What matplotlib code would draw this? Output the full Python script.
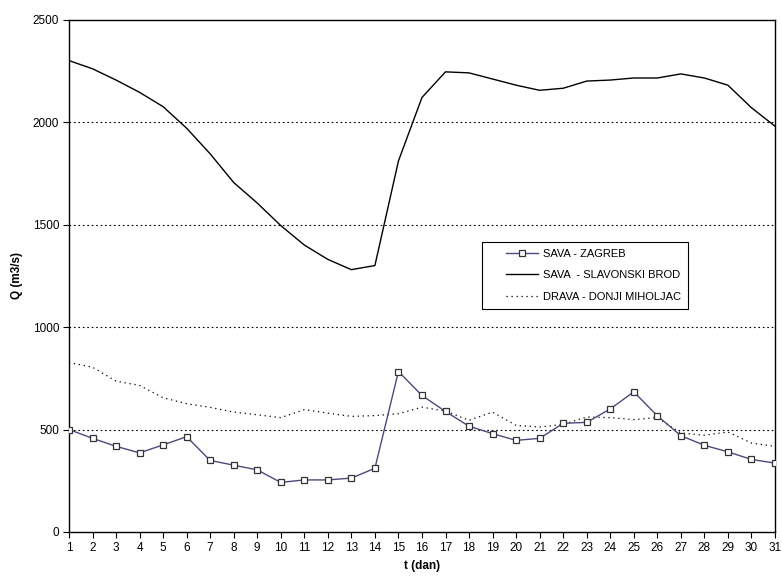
import matplotlib
matplotlib.use("Agg")
import matplotlib.pyplot as plt
from matplotlib.legend_handler import HandlerLine2D

plt.rcParams['font.family'] = ['Liberation Sans', 'DejaVu Sans']

# --- podaci (t u danima, Q u m3/s) ---
days = list(range(1, 32))
sava_zagreb = [500, 457, 418, 386, 425, 465, 349, 326, 303, 242,
               254, 254, 263, 311, 783, 666, 588, 516, 480, 447,
               457, 530, 535, 600, 684, 567, 470, 423, 391, 354, 336]
sava_brod = [2300, 2260, 2205, 2145, 2075, 1970, 1845, 1705, 1605, 1495,
             1400, 1330, 1280, 1300, 1810, 2120, 2245, 2240, 2210, 2180,
             2155, 2165, 2200, 2205, 2215, 2215, 2235, 2215, 2180, 2070, 1980]
drava = [827, 804, 736, 715, 655, 626, 608, 585, 572, 558,
         597, 580, 564, 568, 577, 609, 590, 545, 585, 520,
         512, 525, 561, 558, 548, 558, 483, 472, 488, 434, 418]
labels = ["SAVA - ZAGREB", "SAVA  - SLAVONSKI BROD", "DRAVA - DONJI MIHOLJAC"]

fig = plt.figure(figsize=(7.82, 5.76), dpi=100, facecolor='white')
ax = fig.add_axes([0.0882, 0.0764, 0.9028, 0.8896])

for y in [500, 1000, 1500, 2000]:
    ax.axhline(y, color='black', lw=0.8, ls=(0, (1.5, 2.5)), zorder=1)

l1, = ax.plot(days, sava_zagreb, color='#4a4a7c', lw=1.0, marker='s', ms=4.5,
              mfc='white', mec='#333333', mew=0.9, label=labels[0], zorder=4)
l2, = ax.plot(days, sava_brod, color='black', lw=1.0, label=labels[1], zorder=3)
l3, = ax.plot(days, drava, color='black', lw=0.9, ls=(0, (1, 3)), label=labels[2], zorder=2)

ax.set_xlim(1, 31)
ax.set_ylim(0, 2500)
ax.set_xticks(days)
ax.set_yticks([0, 500, 1000, 1500, 2000, 2500])
ax.tick_params(direction='out', length=4, width=0.8, labelsize=8.5, pad=3)
for s in ax.spines.values():
    s.set_linewidth(1.0)

ax.set_xlabel("t (dan)", fontsize=8.5, fontweight='bold')
ax.set_ylabel("Q (m3/s)", fontsize=8.5, fontweight='bold')
ax.xaxis.set_label_coords(0.5, -0.054)
ax.yaxis.set_label_coords(-0.065, 0.5)

hm = {h: HandlerLine2D(xpad=1.6) for h in (l1, l2, l3)}
leg = ax.legend(handles=[l1, l2, l3], handler_map=hm, loc='upper left',
                bbox_to_anchor=(0.585, 0.566), fontsize=8,
                frameon=True, fancybox=False, edgecolor='black', framealpha=1,
                borderpad=0.6, labelspacing=1.05, handlelength=4.4,
                handletextpad=0.5, borderaxespad=0)
leg.get_frame().set_linewidth(0.8)

fig.savefig("out.png", dpi=100)
